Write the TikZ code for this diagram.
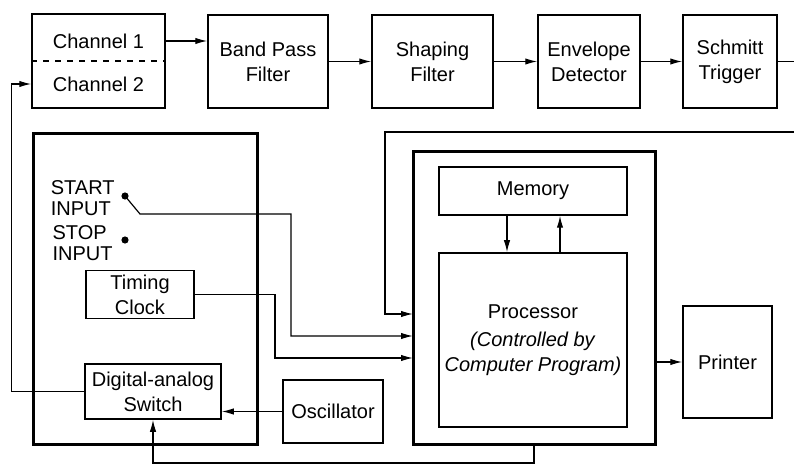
\documentclass[tikz,border=0pt]{standalone}
\usepackage{fontspec}
\setmainfont{Liberation Sans}
\usetikzlibrary{arrows.meta,positioning,calc}
\tikzset{
  blockbox/.style={
    rectangle, draw, line width=0.75pt,
    font=\fontsize{10}{12.5}\selectfont, align=center,
    inner sep=2pt
  },
  framebox/.style={
    rectangle, draw, line width=1.5pt
  },
  labelnode/.style={
    font=\fontsize{10}{10.5}\selectfont, align=left, inner sep=1pt
  },
  dataarrow/.style={
    -{Latex[length=6pt,width=3.2pt]}, line width=0.6pt
  },
  wire/.style={line width=0.6pt},
  dotnode/.style={circle, fill, inner sep=0pt, minimum size=3.6pt},
}
\begin{document}
\begin{tikzpicture}[x=0.5pt,y=-0.5pt]
  \useasboundingbox (0,0) rectangle (794,465);

  % receiver chain along the top
  \node[blockbox, minimum width=66.5pt, minimum height=47pt] (chan) at (98.5,61) {};
  \draw[wire, dashed] (chan.west) -- (chan.east);
  \node[labelnode] (chone) at (98.5,41) {Channel 1};
  \node[labelnode] (chtwo) at (98.5,84) {Channel 2};
  \node[blockbox, minimum width=60pt, minimum height=46.5pt] (bpf) at (268,61.5) {Band Pass\\Filter};
  \node[blockbox, minimum width=60.5pt, minimum height=46.5pt] (shp) at (432.5,61.5) {Shaping\\Filter};
  \node[blockbox, minimum width=51pt, minimum height=46.5pt] (env) at (589,61.5) {Envelope\\Detector};
  \node[blockbox, minimum width=47pt, minimum height=46.5pt] (sch) at (730,61.5) {Schmitt\\Trigger};

  \draw[dataarrow] (chan.east |- chone) -- (bpf.west |- chone);
  \foreach \a/\b in {bpf/shp,shp/env,env/sch} {
    \draw[dataarrow] (\a) -- (\b);
  }

  % control unit
  \node[framebox, minimum width=112pt, minimum height=155pt] (ctrl) at (145,289) {};
  \node[dotnode] (startpt) at (125,196) {};
  \node[dotnode] (stoppt) at (125,240) {};
  \node[labelnode, anchor=east] (startlbl) at (117,198) {START\\INPUT};
  \node[labelnode, anchor=east] (stoplbl) at (115,243) {STOP\\INPUT};
  \node[blockbox, minimum width=54pt, minimum height=22.5pt] (clk) at (140,294.5) {Timing\\Clock};
  \node[blockbox, minimum width=68pt, minimum height=27.5pt] (das) at (153,391.5) {Digital-analog\\Switch};
  \node[blockbox, minimum width=50pt, minimum height=31.5pt] (osc) at (333,411.5) {Oscillator};

  % computer
  \node[framebox, minimum width=121pt, minimum height=146pt] (cpu) at (534,298) {};
  \node[blockbox, minimum width=94pt, minimum height=24pt] (mem) at (533,191) {Memory};
  \node[blockbox, minimum width=94pt, minimum height=87pt] (proc) at (533,340)
    {Processor\\[1.5pt]\textit{(Controlled by}\\\textit{Computer Program)}};
  \node[blockbox, minimum width=44.5pt, minimum height=56pt] (prn) at (727.5,362) {Printer};

  \draw[dataarrow] ([xshift=-13pt]mem.south) -- ([xshift=-13pt]proc.north);
  \draw[dataarrow] ([xshift=13.5pt]proc.north) -- ([xshift=13.5pt]mem.south);
  \draw[dataarrow] (cpu.east |- prn) -- (prn.west);

  % inputs to the computer
  \coordinate (loopout) at (794,61.5);
  \coordinate (loopin) at (794,132);
  \coordinate (inone) at (413,314);
  \coordinate (intwo) at (413,336);
  \coordinate (inthree) at (413,358);
  \coordinate (busturn) at (153,463);
  \draw[wire] (sch) -- (loopout);
  \draw[dataarrow] (loopin) -| (385,314) -- (inone);
  \draw[dataarrow] (startpt.center) -- (140,214) -| (291,336) -- (intwo);
  \draw[dataarrow] (clk.east) -| (275,358) -- (inthree);

  % switching loop
  \draw[dataarrow] (osc.west) -- (das.east |- osc.west);
  \draw[dataarrow] (das.west) -- ++(-73,0) |- (chtwo -| chan.west);
  \draw[dataarrow] (cpu.south) |- (busturn) -- (das.south);
\end{tikzpicture}
\end{document}
